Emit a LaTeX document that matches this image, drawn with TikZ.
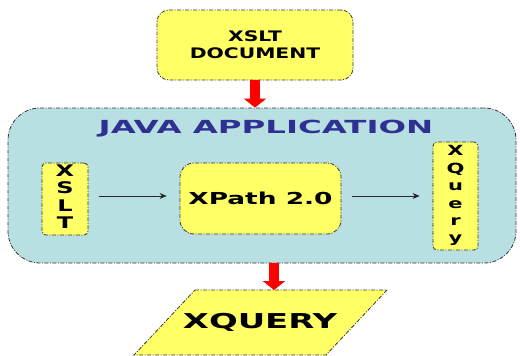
\documentclass[tikz,border=0pt]{standalone}
\usepackage{fontspec}
\usepackage{graphicx}
\setmainfont{DejaVu Sans}
\usetikzlibrary{arrows.meta}

\definecolor{boxyellow}{RGB}{255,255,102}
\definecolor{appblue}{RGB}{184,223,226}
\definecolor{titleblue}{RGB}{46,49,146}

% stretch a text sideways
\newcommand{\wide}[2][1.6]{\scalebox{#1}[1]{#2}}

\tikzset{
  dashdot/.style={draw=black!80,line width=0.8pt,dash pattern=on 4pt off 1.5pt on 1pt off 1.5pt},
  ybox/.style={dashdot,fill=boxyellow,inner sep=0pt,align=center,font=\bfseries},
  flow/.style={draw=black!85,line width=0.8pt,-{Stealth[length=7pt,width=6pt]}},
  bigarrow/.style={draw=red,line width=10pt,-{Triangle[length=9pt,width=22pt]}},
}

\begin{document}
\begin{tikzpicture}[x=1pt,y=-1pt]
  \useasboundingbox (0,0) rectangle (520,356);

  % the application frame
  \node[dashdot,fill=appblue,rounded corners=32pt,minimum width=508pt,minimum height=155pt] (app) at (262,185.5) {};
  \node[font=\bfseries\fontsize{18}{20}\selectfont,text=titleblue] (apptitle) at (266,129) {\wide[1.8]{JAVA APPLICATION}};

  \node[ybox,rounded corners=12pt,minimum width=196pt,minimum height=70pt,font=\bfseries\fontsize{14.5}{17}\selectfont] (doc) at (255,45) {\wide[1.4]{XSLT}\\\wide[1.4]{DOCUMENT}};

  \node[ybox,rounded corners=4pt,minimum width=46pt,minimum height=72pt,font=\bfseries\fontsize{16}{17.5}\selectfont] (xslt) at (65,199)
    {\wide[1.5]{\begin{tabular}{@{}c@{}}X\\S\\L\\T\end{tabular}}};
  \node[ybox,rounded corners=14pt,minimum width=161pt,minimum height=71pt,font=\bfseries\fontsize{16.5}{18}\selectfont] (xpath) at (260.5,198.5) {\wide[1.6]{XPath 2.0}};
  \node[ybox,rounded corners=4pt,minimum width=45pt,minimum height=108pt,font=\bfseries\fontsize{14}{17.4}\selectfont] (xquery) at (455.5,196)
    {\wide[1.5]{\begin{tabular}{@{}c@{}}X\\Q\\u\\e\\r\\y\end{tabular}}};

  % output parallelogram
  \filldraw[dashdot,fill=boxyellow] (195,290) -- (387,290) -- (326,355) -- (134,355) -- cycle;
  \coordinate (outtop) at (274,290);
  \node[font=\bfseries\fontsize{20.5}{22}\selectfont] (out) at (260,322.5) {\wide[1.65]{XQUERY}};

  \draw[flow,shorten <=11pt,shorten >=13pt] ([yshift=3pt]xslt.east) -- ([yshift=3pt]xslt.east -| xpath.west);
  \draw[flow,shorten <=11pt,shorten >=13pt] ([yshift=3pt]xslt.east -| xpath.east) -- ([yshift=3pt]xslt.east -| xquery.west);

  \draw[bigarrow] (doc.south) -- (doc.south |- app.north);
  \draw[bigarrow] (app.south -| outtop) -- (outtop);
\end{tikzpicture}
\end{document}
